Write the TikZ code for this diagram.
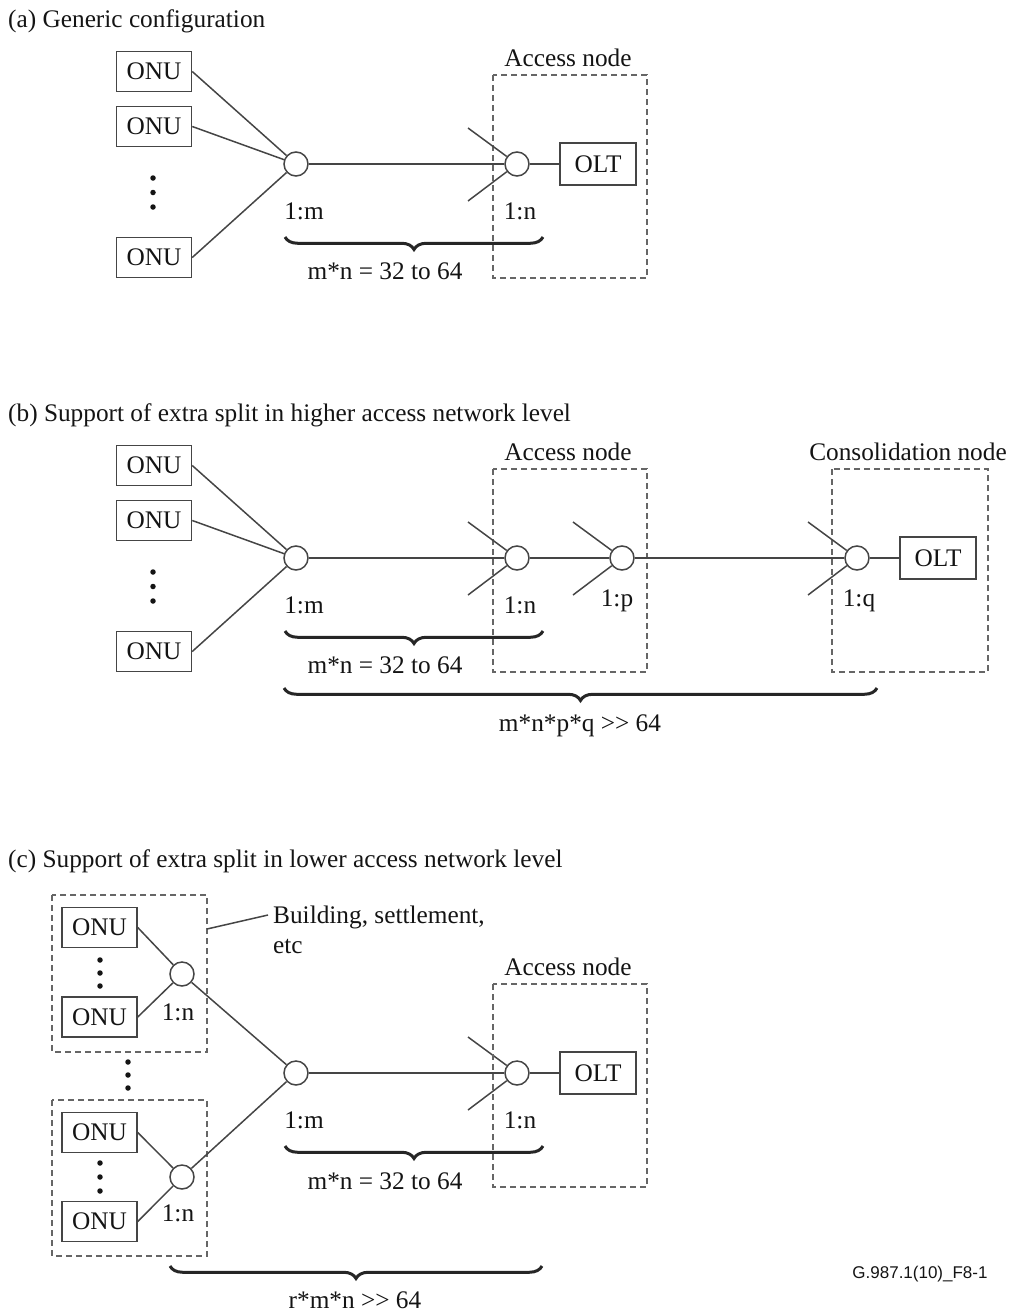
\documentclass[tikz,border=0pt]{standalone}
\usepackage{fontspec}
\setmainfont{Liberation Serif}
\newfontfamily\labsans{Liberation Sans}
\usetikzlibrary{decorations.pathreplacing}
\definecolor{linegray}{HTML}{454545}
\definecolor{dashgray}{HTML}{666666}
\definecolor{textcol}{HTML}{141414}
\definecolor{bracecol}{HTML}{262626}
\newcommand\bigfs{\fontsize{25.3}{30}\selectfont}
\tikzset{
  box/.style={draw=linegray, line width=1.5pt, minimum width=75pt, minimum height=40pt, inner sep=0pt, font=\bigfs, text=textcol},
  oltbox/.style={box, minimum width=76pt, minimum height=42pt},
  split/.style={circle, draw=linegray, line width=1.5pt, minimum size=24pt, inner sep=0pt, fill=white},
  ln/.style={draw=linegray, line width=1.5pt},
  dbox/.style={draw=dashgray, line width=1.4pt, dash pattern=on 6pt off 4pt},
  lbl/.style={anchor=base, inner sep=0pt, font=\bigfs, text=textcol},
  ttl/.style={anchor=base west, inner sep=0pt, font=\bigfs, text=textcol},
  brc/.style={decorate, decoration={brace, mirror, amplitude=12.5pt}, line width=3pt, draw=bracecol},
  vdot/.style={circle, fill=textcol, minimum size=5.5pt, inner sep=0pt},
}
\begin{document}
\begin{tikzpicture}[x=1pt,y=-1pt]
\useasboundingbox (0,0) rectangle (1013,1312);

% ================= (a) =================
\node[ttl] (ta) at (8,27) {(a) Generic configuration};
\node[box] (a1) at (154,71.5) {ONU};
\node[box] (a2) at (154,126.5) {ONU};
\node[box] (a3) at (154,257.5) {ONU};
\node[vdot] (ad1) at (153,178) {};
\node[vdot] (ad2) at (153,192.5) {};
\node[vdot] (ad3) at (153,207) {};
\node[split] (am) at (296,164) {};
\node[split] (an) at (517,164) {};
\node[oltbox] (aolt) at (598,164) {OLT};
\draw[dbox] (493,75) rectangle (647,278);
\node[lbl] (aacc) at (568,66) {Access node};
\coordinate (anu) at (468,128);
\coordinate (anl) at (468,201);
\draw[ln] (a1.east) -- (am);
\draw[ln] (a2.east) -- (am);
\draw[ln] (a3.east) -- (am);
\draw[ln] (am) -- (an);
\draw[ln] (anu) -- (an);
\draw[ln] (anl) -- (an);
\draw[ln] (an) -- (aolt);
\node[lbl] (alm) at (304,219) {1:m};
\node[lbl] (aln) at (520,219) {1:n};
\coordinate (abr1) at (285,237);
\coordinate (abr2) at (543,237);
\draw[brc] (abr1) -- (abr2);
\node[lbl] (aeq) at (385,279) {m*n = 32 to 64};

% ================= (b) =================
\node[ttl] (tb) at (8,421) {(b) Support of extra split in higher access network level};
\node[box] (b1) at (154,465.5) {ONU};
\node[box] (b2) at (154,520.5) {ONU};
\node[box] (b3) at (154,651.5) {ONU};
\node[vdot] (bd1) at (153,572) {};
\node[vdot] (bd2) at (153,586.5) {};
\node[vdot] (bd3) at (153,601) {};
\node[split] (bm) at (296,558) {};
\node[split] (bn) at (517,558) {};
\node[split] (bp) at (622,558) {};
\node[split] (bq) at (857,558) {};
\node[oltbox] (bolt) at (938,558) {OLT};
\draw[dbox] (493,469) rectangle (647,672);
\draw[dbox] (832,469) rectangle (988,672);
\node[lbl] (bacc) at (568,460) {Access node};
\node[lbl] (bcon) at (908,460) {Consolidation node};
\coordinate (bnu) at (468,522);
\coordinate (bnl) at (468,595);
\coordinate (bpu) at (573,522);
\coordinate (bpl) at (573,595);
\coordinate (bqu) at (808,522);
\coordinate (bql) at (808,595);
\draw[ln] (b1.east) -- (bm);
\draw[ln] (b2.east) -- (bm);
\draw[ln] (b3.east) -- (bm);
\draw[ln] (bm) -- (bn);
\draw[ln] (bn) -- (bp);
\draw[ln] (bp) -- (bq);
\draw[ln] (bq) -- (bolt);
\draw[ln] (bnu) -- (bn);
\draw[ln] (bnl) -- (bn);
\draw[ln] (bpu) -- (bp);
\draw[ln] (bpl) -- (bp);
\draw[ln] (bqu) -- (bq);
\draw[ln] (bql) -- (bq);
\node[lbl] (blm) at (304,613) {1:m};
\node[lbl] (bln) at (520,613) {1:n};
\node[lbl] (blp) at (617,606) {1:p};
\node[lbl] (blq) at (859,606) {1:q};
\coordinate (bbr1) at (285,631);
\coordinate (bbr2) at (543,631);
\draw[brc] (bbr1) -- (bbr2);
\node[lbl] (beq) at (385,673) {m*n = 32 to 64};
\coordinate (bbr3) at (284,688);
\coordinate (bbr4) at (877,688);
\draw[brc] (bbr3) -- (bbr4);
\node[lbl] (beq2) at (580,731) {m*n*p*q >{}> 64};

% ================= (c) =================
\node[ttl] (tc) at (8,867) {(c) Support of extra split in lower access network level};
\draw[dbox] (52,895) rectangle (207,1052);
\draw[dbox] (52,1100) rectangle (207,1256);
\node[box] (c1) at (99.5,927.5) {ONU};
\node[box] (c2) at (99.5,1017) {ONU};
\node[box] (c3) at (99.5,1132.5) {ONU};
\node[box] (c4) at (99.5,1221.5) {ONU};
\node[vdot] (cd1) at (100,960) {};
\node[vdot] (cd2) at (100,973) {};
\node[vdot] (cd3) at (100,986) {};
\node[vdot] (cd4) at (100,1163) {};
\node[vdot] (cd5) at (100,1177) {};
\node[vdot] (cd6) at (100,1191) {};
\node[vdot] (cd7) at (128,1062) {};
\node[vdot] (cd8) at (128,1075) {};
\node[vdot] (cd9) at (128,1088) {};
\node[split] (cs1) at (182,974) {};
\node[split] (cs2) at (182,1177) {};
\node[lbl] (cls1) at (178,1020) {1:n};
\node[lbl] (cls2) at (178,1221) {1:n};
\draw[ln] (c1.east) -- (cs1);
\draw[ln] (c2.east) -- (cs1);
\draw[ln] (c3.east) -- (cs2);
\draw[ln] (c4.east) -- (cs2);
\node[split] (cm) at (296,1073) {};
\node[split] (cn) at (517,1073) {};
\node[oltbox] (colt) at (598,1073) {OLT};
\draw[ln] (cs1) -- (cm);
\draw[ln] (cs2) -- (cm);
\draw[ln] (cm) -- (cn);
\draw[ln] (cn) -- (colt);
\coordinate (cnu) at (468,1037);
\coordinate (cnl) at (468,1110);
\draw[ln] (cnu) -- (cn);
\draw[ln] (cnl) -- (cn);
\draw[dbox] (493,984) rectangle (647,1187);
\node[lbl] (cacc) at (568,975) {Access node};
\node[lbl] (clm) at (304,1128) {1:m};
\node[lbl] (cln) at (520,1128) {1:n};
\coordinate (cbr1) at (285,1146);
\coordinate (cbr2) at (543,1146);
\draw[brc] (cbr1) -- (cbr2);
\node[lbl] (ceq) at (385,1189) {m*n = 32 to 64};
\coordinate (cbr3) at (170,1266);
\coordinate (cbr4) at (542,1266);
\draw[brc] (cbr3) -- (cbr4);
\node[lbl] (ceq2) at (355,1308) {r*m*n >{}> 64};
\node[anchor=north west, inner sep=0pt, align=left, font=\bigfs, text=textcol] (bldg) at (273,906) {Building, settlement,\\etc};
\coordinate (ldr) at (207,929);
\draw[ln] (ldr) -- ([xshift=-5pt,yshift=-9pt]bldg.north west);
\node[anchor=base, inner sep=0pt, font=\labsans\fontsize{17}{20}\selectfont, text=textcol] (fig) at (920,1278) {G.987.1(10)\_F8-1};
\end{tikzpicture}
\end{document}
